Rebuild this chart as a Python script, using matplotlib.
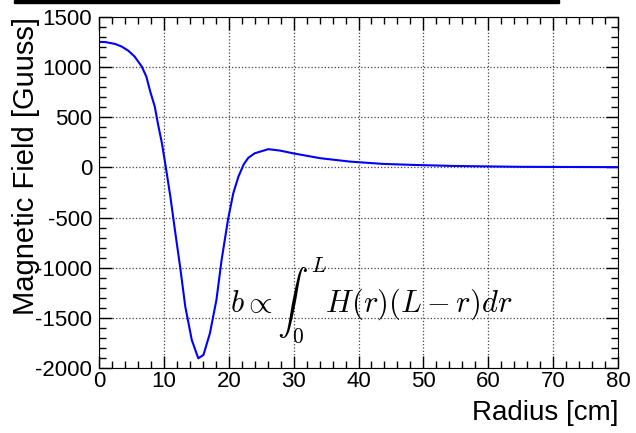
import matplotlib
matplotlib.use("Agg")
import matplotlib.pyplot as plt
from matplotlib.patches import Rectangle
from matplotlib.ticker import MultipleLocator

# values
radius = [0.0, 1.0, 2.5, 3.5, 4.5, 5.5, 6.6, 7.3, 7.9, 8.6, 9.1, 9.7, 10.2,
          11.0, 11.7, 12.5, 13.3, 14.3, 15.3, 16.1, 17.1, 18.1, 18.9, 19.9,
          20.7, 21.5, 22.3, 23.0, 24.0, 26.1, 27.9, 29.9, 34.1, 38.7, 43.8,
          49.0, 54.5, 60.0, 65.3, 70.0, 75.0, 80.0]
field = [1252, 1250, 1231, 1205, 1165, 1105, 1005, 905, 756, 606, 430, 241, 42,
         -291, -623, -989, -1388, -1720, -1903, -1870, -1653, -1321, -922, -515,
         -257, -90, 30, 95, 141, 182, 168, 141, 92, 58, 35,
         24, 15, 10, 6, 5, 4, 3]

plt.rcParams["font.family"] = ["Liberation Sans", "DejaVu Sans"]
plt.rcParams["mathtext.fontset"] = "cm"
plt.rcParams["axes.unicode_minus"] = False

fig = plt.figure(figsize=(6.36, 4.33), dpi=100)
ax = fig.add_axes([99 / 636, 1 - 368 / 433, 519 / 636, 351 / 433])

ax.plot(radius, field, color="#0000ff", linewidth=1.5)

ax.set_xlim(0, 80)
ax.set_ylim(-2000, 1500)
ax.xaxis.set_major_locator(MultipleLocator(10))
ax.xaxis.set_minor_locator(MultipleLocator(2))
ax.yaxis.set_major_locator(MultipleLocator(500))
ax.yaxis.set_minor_locator(MultipleLocator(100))
ax.tick_params(which="both", direction="in", top=True, right=True,
               labelsize=16, width=1)
ax.tick_params(which="major", length=9)
ax.tick_params(which="minor", length=5)
ax.tick_params(axis="x", pad=2)
ax.tick_params(axis="y", pad=5)
ax.grid(True, which="major", linestyle=":", color="#444444", linewidth=0.9)

ax.set_xlabel("Radius [cm]", fontsize=20, loc="right")
ax.xaxis.set_label_coords(1.0, -0.09)
ax.set_ylabel("Magnetic Field [Guuss]", fontsize=21, loc="top")
ax.yaxis.set_label_coords(-0.114, 1.0)

ax.text(20.2, -1320, r"$b \propto \int_0^L H(r)(L-r)dr$", fontsize=22,
        va="center", ha="left")

# leftover title bar at the very top
fig.patches.append(Rectangle((14 / 636, 1 - 3 / 433), 545 / 636, 3 / 433,
                             transform=fig.transFigure, color="black"))

fig.savefig("out.png", dpi=100)
